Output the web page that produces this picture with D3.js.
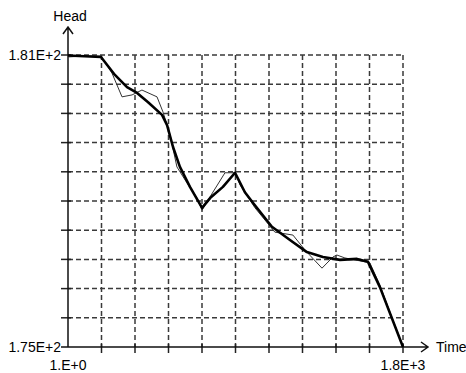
<!DOCTYPE html>
<html>
<head>
<meta charset="utf-8">
<script src="https://cdn.jsdelivr.net/npm/d3@7"></script>
<style>
  body { margin: 0; background: #fff; }
  svg { display: block; }
</style>
</head>
<body>
<div id="chart"></div>
<script>
// time values and head values
var thickTime = [1, 178, 253, 318, 372, 431, 506, 533, 565, 602, 656, 721, 764, 833, 898, 951, 995, 1096, 1193, 1284, 1370, 1462, 1553, 1612, 1676, 1800];
var thickHead = [180.99, 180.96, 180.59, 180.34, 180.22, 180.03, 179.77, 179.56, 179.11, 178.70, 178.29, 177.86, 178.06, 178.29, 178.58, 178.18, 177.96, 177.47, 177.20, 176.95, 176.85, 176.79, 176.81, 176.75, 176.23, 175.0];

var thinTime = [1, 92, 178, 237, 291, 345, 398, 479, 511, 549, 586, 640, 694, 721, 753, 844, 898, 925, 1005, 1112, 1209, 1274, 1365, 1424, 1445, 1488, 1622, 1676, 1800];
var thinHead = [180.96, 180.98, 180.98, 180.63, 180.14, 180.18, 180.28, 180.14, 179.83, 179.36, 178.70, 178.37, 178.06, 177.81, 178.02, 178.58, 178.58, 178.33, 177.86, 177.36, 177.30, 176.99, 176.62, 176.85, 176.89, 176.83, 176.73, 176.27, 175.0];

var timeDomain = [1, 1800];
var headDomain = [175, 181];
var xTickLabels = ["1.E+0", "1.8E+3"];
var yTickLabels = ["1.75E+2", "1.81E+2"];
var divisions = 10;

var width = 466, height = 373;
var plot = {left: 68, right: 403, top: 55, bottom: 347};

var svg = d3.select("#chart")
  .append("svg")
    .attr("width", width)
    .attr("height", height);

var x = d3.scaleLinear().domain(timeDomain).range([plot.left, plot.right]);
var y = d3.scaleLinear().domain(headDomain).range([plot.bottom, plot.top]);

var xGrid = d3.range(divisions + 1).map(function(i) {
  return timeDomain[0] + i * (timeDomain[1] - timeDomain[0]) / divisions;
});
var yGrid = d3.range(divisions + 1).map(function(i) {
  return headDomain[0] + i * (headDomain[1] - headDomain[0]) / divisions;
});

// dashed grid
svg.append("g").selectAll("line")
  .data(xGrid.slice(1)).enter()
  .append("line")
    .attr("x1", function(d) { return x(d); })
    .attr("x2", function(d) { return x(d); })
    .attr("y1", plot.top)
    .attr("y2", plot.bottom)
    .style("stroke", "#3a3a3a")
    .style("stroke-width", 1.5)
    .style("stroke-dasharray", "5,3");

svg.append("g").selectAll("line")
  .data(yGrid.slice(1)).enter()
  .append("line")
    .attr("x1", plot.left)
    .attr("x2", plot.right)
    .attr("y1", function(d) { return y(d); })
    .attr("y2", function(d) { return y(d); })
    .style("stroke", "#3a3a3a")
    .style("stroke-width", 1.5)
    .style("stroke-dasharray", "5,3");

// tick marks crossing the axes
svg.append("g").selectAll("line")
  .data(xGrid.slice(1)).enter()
  .append("line")
    .attr("x1", function(d) { return x(d); })
    .attr("x2", function(d) { return x(d); })
    .attr("y1", plot.bottom - 3)
    .attr("y2", plot.bottom + 6)
    .style("stroke", "#222")
    .style("stroke-width", 1.5);

svg.append("g").selectAll("line")
  .data(yGrid.slice(1)).enter()
  .append("line")
    .attr("x1", plot.left - 7)
    .attr("x2", plot.left + 3)
    .attr("y1", function(d) { return y(d); })
    .attr("y2", function(d) { return y(d); })
    .style("stroke", "#222")
    .style("stroke-width", 1.5);

// axes with open arrow heads
svg.append("path")
  .attr("d", "M" + plot.left + "," + plot.bottom + "V27M" + (plot.left - 5) + ",34L" + plot.left + ",27L" + (plot.left + 5) + ",34")
  .style("fill", "none")
  .style("stroke", "#111")
  .style("stroke-width", 1.5);

svg.append("path")
  .attr("d", "M" + (plot.left - 7) + "," + plot.bottom + "H428M421," + (plot.bottom - 5) + "L428," + plot.bottom + "L421," + (plot.bottom + 5))
  .style("fill", "none")
  .style("stroke", "#111")
  .style("stroke-width", 1.5);

var line = d3.line()
  .x(function(d) { return x(d[0]); })
  .y(function(d) { return y(d[1]); });

svg.append("path")
  .datum(d3.zip(thinTime, thinHead))
  .attr("d", line)
  .style("fill", "none")
  .style("stroke", "#333")
  .style("stroke-width", 1);

svg.append("path")
  .datum(d3.zip(thickTime, thickHead))
  .attr("d", line)
  .style("fill", "none")
  .style("stroke", "#000")
  .style("stroke-width", 2.6)
  .style("stroke-linejoin", "round");

// labels
var font = "14px 'Liberation Sans', Arial, sans-serif";

svg.append("text")
  .attr("x", plot.left + 2)
  .attr("y", 21)
  .attr("text-anchor", "middle")
  .style("font", font)
  .text("Head");

svg.append("text")
  .attr("x", 436)
  .attr("y", plot.bottom + 5)
  .style("font", font)
  .text("Time");

svg.selectAll(".ylab")
  .data(yTickLabels).enter()
  .append("text")
    .attr("x", plot.left - 7)
    .attr("y", function(d, i) { return y(headDomain[i]); })
    .attr("dy", "5px")
    .attr("text-anchor", "end")
    .style("font", font)
    .text(function(d) { return d; });

svg.selectAll(".xlab")
  .data(xTickLabels).enter()
  .append("text")
    .attr("x", function(d, i) { return x(timeDomain[i]); })
    .attr("y", 370)
    .attr("text-anchor", "middle")
    .style("font", font)
    .text(function(d) { return d; });
</script>
</body>
</html>
